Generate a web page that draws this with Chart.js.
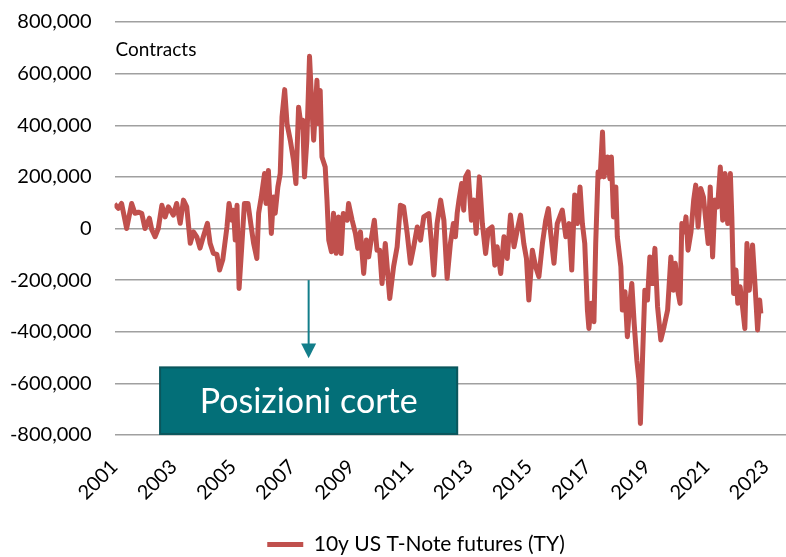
<!DOCTYPE html>
<html>
<head>
<meta charset="utf-8">
<script src="https://cdn.jsdelivr.net/npm/chart.js"></script>
<style>
  html, body { margin: 0; padding: 0; background: #fff; }
  #wrap { width: 786px; height: 557px; }
</style>
</head>
<body>
<div id="wrap"><canvas id="chart" width="786" height="557"></canvas></div>
<script>
// weekly-ish readings of net positioning, 10y T-Note futures (contracts)
const years = [
  2001.00, 2001.13, 2001.24, 2001.41, 2001.58, 2001.69, 2001.81, 2001.92, 2002.03, 2002.18,
  2002.26, 2002.37, 2002.48, 2002.60, 2002.71, 2002.82, 2002.99, 2003.10, 2003.22, 2003.33,
  2003.44, 2003.56, 2003.67, 2003.78, 2003.89, 2004.00, 2004.14, 2004.23, 2004.34, 2004.46,
  2004.55, 2004.66, 2004.80, 2004.87, 2004.97, 2005.02, 2005.08, 2005.14, 2005.21, 2005.30,
  2005.39, 2005.51, 2005.62, 2005.70, 2005.81, 2005.87, 2005.96, 2006.07, 2006.12, 2006.20,
  2006.30, 2006.37, 2006.43, 2006.52, 2006.60, 2006.66, 2006.75, 2006.83, 2006.94, 2007.05,
  2007.13, 2007.22, 2007.31, 2007.36, 2007.42, 2007.50, 2007.59, 2007.67, 2007.73, 2007.84,
  2007.90, 2007.95, 2008.01, 2008.12, 2008.18, 2008.24, 2008.33, 2008.40, 2008.49, 2008.57,
  2008.66, 2008.73, 2008.86, 2008.91, 2009.03, 2009.14, 2009.22, 2009.31, 2009.42, 2009.51,
  2009.59, 2009.67, 2009.78, 2009.87, 2009.96, 2010.04, 2010.15, 2010.30, 2010.43, 2010.55,
  2010.66, 2010.77, 2010.89, 2011.00, 2011.11, 2011.23, 2011.34, 2011.45, 2011.62, 2011.70,
  2011.79, 2011.90, 2012.02, 2012.13, 2012.24, 2012.35, 2012.45, 2012.52, 2012.58, 2012.64,
  2012.73, 2012.80, 2012.86, 2012.95, 2013.06, 2013.14, 2013.22, 2013.33, 2013.43, 2013.54,
  2013.63, 2013.76, 2013.85, 2013.93, 2014.05, 2014.16, 2014.27, 2014.38, 2014.50, 2014.61,
  2014.72, 2014.83, 2014.92, 2015.00, 2015.12, 2015.23, 2015.34, 2015.46, 2015.57, 2015.66,
  2015.74, 2015.85, 2015.96, 2016.13, 2016.25, 2016.36, 2016.45, 2016.55, 2016.64, 2016.73,
  2016.81, 2016.89, 2016.98, 2017.03, 2017.11, 2017.20, 2017.26, 2017.34, 2017.41, 2017.49,
  2017.54, 2017.66, 2017.74, 2017.79, 2017.86, 2017.94, 2017.99, 2018.11, 2018.16, 2018.25,
  2018.33, 2018.41, 2018.48, 2018.56, 2018.65, 2018.72, 2018.77, 2018.84, 2018.92, 2019.01,
  2019.09, 2019.18, 2019.26, 2019.35, 2019.46, 2019.57, 2019.69, 2019.80, 2019.88, 2019.95,
  2020.03, 2020.11, 2020.17, 2020.25, 2020.31, 2020.38, 2020.48, 2020.57, 2020.64, 2020.72,
  2020.81, 2020.90, 2020.98, 2021.06, 2021.13, 2021.21, 2021.29, 2021.38, 2021.47, 2021.55,
  2021.63, 2021.72, 2021.81, 2021.86, 2021.92, 2022.00, 2022.06, 2022.14, 2022.22, 2022.30,
  2022.37, 2022.45, 2022.56, 2022.64, 2022.73, 2022.80, 2022.84
];
const contracts = [
  95000, 78000, 97000, 0, 97000, 59000, 63000, 59000, 0, 40000,
  -5000, -32000, 0, 90000, 45000, 84000, 52000, 97000, 20000, 110000,
  84000, -57000, -13000, -32000, -76000, -32000, 20000, -57000, -96000, -100000,
  -161000, -120000, 6000, 97000, 32000, 71000, -45000, 90000, -232000, -70000,
  97000, 97000, 6000, -57000, -116000, 59000, 122000, 213000, 97000, 225000,
  -19000, 122000, 59000, 161000, 213000, 432000, 538000, 406000, 342000, 264000,
  174000, 470000, 393000, 420000, 200000, 342000, 667000, 470000, 342000, 574000,
  406000, 535000, 277000, 238000, 110000, -45000, -90000, 59000, -96000, 45000,
  -97000, 58000, 32000, 97000, 32000, -19000, -77000, -13000, -174000, -45000,
  -110000, -45000, 32000, -84000, -84000, -213000, -58000, -271000, -148000, -71000,
  90000, 84000, -19000, -135000, -71000, 6000, -45000, 45000, 58000, -45000,
  -180000, 19000, 110000, 32000, -193000, -58000, 19000, -32000, 60000, 110000,
  174000, 71000, 200000, 219000, 32000, 110000, -19000, 200000, 19000, -97000,
  -6000, 6000, -142000, -71000, -174000, -32000, -116000, 52000, -71000, -6000,
  52000, -58000, -116000, -277000, -84000, -148000, -187000, -58000, 32000, 77000,
  -19000, -135000, 19000, 71000, -32000, 19000, -161000, 130000, 19000, 161000,
  19000, -58000, -316000, -387000, -290000, -361000, -58000, 219000, 200000, 374000,
  200000, 277000, 193000, 277000, 45000, 161000, -32000, -148000, -316000, -245000,
  -419000, -290000, -213000, -368000, -510000, -587000, -755000, -510000, -239000, -277000,
  -110000, -213000, -77000, -303000, -432000, -380000, -316000, -110000, -239000, -135000,
  -239000, -290000, 19000, -13000, 45000, -84000, -13000, 110000, 168000, 6000,
  155000, 122000, 32000, -58000, 161000, -110000, 110000, 84000, 238000, 32000,
  213000, 19000, 213000, 45000, -252000, -161000, -290000, -226000, -303000, -387000,
  -58000, -239000, -64000, -213000, -393000, -277000, -329000
];
const tickYears = [2001, 2003, 2005, 2007, 2009, 2011, 2013, 2015, 2017, 2019, 2021, 2023];
const yTicks = [-800000, -600000, -400000, -200000, 0, 200000, 400000, 600000, 800000];

const FONT = 'Lato, "Open Sans", sans-serif';
Chart.defaults.font.family = FONT;
Chart.defaults.color = '#000';

// text, arrow and box drawn on top of the plot
const overlay = {
  id: 'overlay',
  afterDatasetsDraw(chart) {
    const { ctx, chartArea, scales: { x, y } } = chart;
    ctx.save();
    ctx.fillStyle = '#000';
    ctx.font = '19px ' + FONT;
    ctx.textAlign = 'left';
    ctx.textBaseline = 'alphabetic';
    ctx.fillText('Contracts', chartArea.left + 1, 56);

    // arrow
    const ax = x.getPixelForValue(2007.56);
    const y0 = y.getPixelForValue(-200000);
    const yb = y.getPixelForValue(-446000);
    const yt = y.getPixelForValue(-503000);
    ctx.strokeStyle = '#137e8a';
    ctx.fillStyle = '#137e8a';
    ctx.lineWidth = 2;
    ctx.beginPath();
    ctx.moveTo(ax, y0);
    ctx.lineTo(ax, yb + 1);
    ctx.stroke();
    ctx.beginPath();
    ctx.moveTo(ax - 7.5, yb);
    ctx.lineTo(ax + 7.5, yb);
    ctx.lineTo(ax, yt);
    ctx.closePath();
    ctx.fill();

    // box
    const bl = x.getPixelForValue(2002.54);
    const br = x.getPixelForValue(2012.58);
    const bt = y.getPixelForValue(-538000);
    const bb = y.getPixelForValue(-796000);
    ctx.fillStyle = '#036f78';
    ctx.fillRect(bl, bt, br - bl, bb - bt);
    ctx.strokeStyle = '#0a565c';
    ctx.lineWidth = 2;
    ctx.strokeRect(bl, bt, br - bl, bb - bt);
    ctx.fillStyle = '#fff';
    ctx.font = '34px ' + FONT;
    ctx.textAlign = 'center';
    ctx.textBaseline = 'middle';
    ctx.fillText('Posizioni corte', (bl + br) / 2, (bt + bb) / 2 + 1);
    ctx.restore();
  }
};

// legend sits a bit right of canvas centre and lower in the original
const legendShift = {
  id: 'legendShift',
  afterLayout(chart) {
    const l = chart.legend;
    if (!l) return;
    l.left += 23;
    l.right += 23;
    l.top += 8;
    l.bottom += 8;
  }
};

new Chart(document.getElementById('chart'), {
  type: 'line',
  data: {
    datasets: [{
      label: '10y US T-Note futures (TY)',
      data: years.map((yr, i) => ({ x: yr, y: contracts[i] })),
      borderColor: '#c0504d',
      backgroundColor: '#c0504d',
      borderWidth: 5,
      pointRadius: 0,
      tension: 0,
      borderJoinStyle: 'round',
      fill: false
    }]
  },
  options: {
    responsive: false,
    animation: false,
    devicePixelRatio: 1,
    layout: { padding: { top: 22, right: 0, left: 0, bottom: 0 } },
    plugins: {
      tooltip: { enabled: false },
      legend: {
        position: 'bottom',
        labels: {
          usePointStyle: true,
          pointStyle: 'line',
          pointStyleWidth: 36,
          font: { size: 21, family: FONT },
          color: '#000',
          padding: 1
        }
      }
    },
    scales: {
      x: {
        type: 'linear',
        min: 2001,
        max: 2023.69,
        afterBuildTicks(scale) { scale.ticks = tickYears.map(v => ({ value: v })); },
        afterFit(scale) { scale.height = 90; scale.paddingLeft = 0; scale.paddingRight = 0; },
        grid: { display: false, drawTicks: false },
        border: { display: false },
        ticks: {
          autoSkip: false,
          maxRotation: 45,
          minRotation: 45,
          padding: 20,
          font: { size: 20, family: FONT },
          color: '#000',
          callback: v => String(v)
        }
      },
      y: {
        min: -800000,
        max: 800000,
        afterBuildTicks(scale) { scale.ticks = yTicks.map(v => ({ value: v })); },
        afterFit(scale) { scale.width = 114.5; scale.paddingTop = 0; scale.paddingBottom = 0; },
        grid: { color: '#a0a0a0', lineWidth: 1.5, drawTicks: false },
        border: { display: false },
        ticks: {
          padding: 23,
          font: { size: 20, family: FONT },
          color: '#000',
          callback: v => v.toLocaleString('en-US')
        }
      }
    }
  },
  plugins: [overlay, legendShift]
});
</script>
</body>
</html>
